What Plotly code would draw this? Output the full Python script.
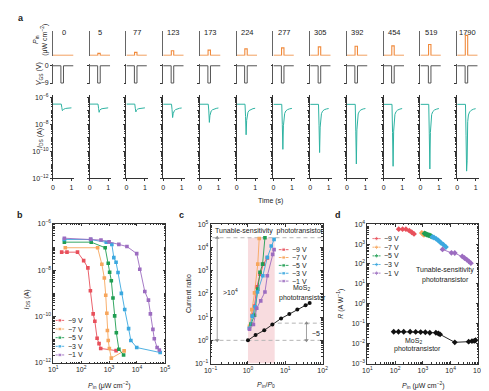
import numpy as np
import plotly.graph_objects as go

W, H = 489, 391
FONT = "Liberation Sans, Arial, Helvetica, sans-serif"
AX = "#333333"
TXT = "#222222"

# ---------------- panel a data ----------------
irradiance_labels = ["0", "5", "77", "123", "173", "224", "277", "305", "392", "454", "519", "1790"]
pulse_height = [0, 2.0, 3.0, 4.6, 5.3, 6.6, 7.6, 8.6, 9.3, 9.6, 11.0, 20.3]   # drawn pulse height
pulse_time = [0, 0.44, 0.44, 0.57, 0.57, 1.1]
pulse_shape = [0, 0, 1, 1, 0, 0]
vgs_time = [0, 0.43, 0.43, 0.57, 0.57, 1.1]
vgs_values = [0, 0, -9, -9, 0, 0]
ids_time = [0, 0.45, 0.48, 0.51, 0.54, 0.57, 0.61, 0.67, 0.76, 0.88, 1.0]
ids_log_0 = [-6.49, -6.49, -6.75, -6.98, -6.93, -6.88, -6.85, -6.82, -6.80, -6.78, -6.77]
ids_log_5 = [-6.49, -6.49, -6.80, -7.10, -6.95, -6.90, -6.86, -6.83, -6.80, -6.78, -6.77]
ids_log_77 = [-6.49, -6.49, -6.80, -7.07, -6.95, -6.90, -6.86, -6.83, -6.80, -6.78, -6.77]
ids_log_123 = [-6.50, -6.50, -6.90, -7.49, -7.20, -7.05, -6.97, -6.90, -6.85, -6.80, -6.78]
ids_log_173 = [-6.50, -6.50, -7.00, -7.85, -7.35, -7.12, -7.00, -6.92, -6.86, -6.81, -6.78]
ids_log_224 = [-6.50, -6.50, -7.40, -8.77, -7.70, -7.30, -7.10, -6.97, -6.89, -6.83, -6.80]
ids_log_277 = [-6.51, -6.51, -8.00, -9.85, -8.10, -7.45, -7.18, -7.00, -6.90, -6.84, -6.81]
ids_log_305 = [-6.51, -6.51, -8.10, -10.09, -8.20, -7.50, -7.20, -7.02, -6.91, -6.85, -6.82]
ids_log_392 = [-6.51, -6.51, -8.50, -10.94, -8.40, -7.55, -7.22, -7.03, -6.92, -6.85, -6.82]
ids_log_454 = [-6.51, -6.51, -8.60, -11.11, -8.50, -7.60, -7.25, -7.05, -6.93, -6.86, -6.82]
ids_log_519 = [-6.51, -6.51, -8.70, -11.31, -8.60, -7.62, -7.26, -7.05, -6.93, -6.86, -6.82]
ids_log_1790 = [-6.51, -6.51, -8.80, -11.47, -10.70, -7.80, -7.30, -7.08, -6.95, -6.87, -6.83]
ids_log_columns = [ids_log_0, ids_log_5, ids_log_77, ids_log_123, ids_log_173, ids_log_224,
                   ids_log_277, ids_log_305, ids_log_392, ids_log_454, ids_log_519, ids_log_1790]

# ---------------- panels b-d shared ----------------
gate_labels = ["\u22129 V", "\u22127 V", "\u22125 V", "\u22123 V", "\u22121 V"]
gate_colors = ["#e8505b", "#f7a65c", "#1f9e52", "#3ba8df", "#9c6cc0"]

# ---------------- panel b data ----------------
b_pin_m9 = [20, 31, 74, 123, 174, 214, 269, 309, 372, 437, 501, 1780]
b_ids_m9 = [6.0e-8, 6.0e-8, 6.0e-8, 2.6e-8, 1.26e-8, 1.3e-9, 1.3e-10, 6.3e-11, 1.15e-11, 6.8e-12, 4.2e-12, 3.4e-12]
b_pin_m7 = [27, 389, 550, 676, 759, 832, 871, 933, 1023, 1202, 3467]
b_ids_m7 = [9.3e-8, 9.3e-8, 1.8e-8, 4.6e-9, 8.3e-10, 1.38e-10, 2.5e-11, 9.3e-12, 4.2e-12, 1.6e-12, 3.3e-12]
b_pin_m5 = [25, 229, 724, 933, 1047, 1202, 1380, 1585, 1820, 2239, 3311]
b_ids_m5 = [1.62e-7, 1.62e-7, 9.3e-8, 2.0e-8, 8.1e-9, 3.5e-9, 6.3e-10, 1.07e-10, 2.0e-11, 3.9e-12, 2.2e-12]
b_pin_m3 = [25, 219, 794, 1259, 1479, 1778, 2089, 2754, 3631, 5012, 6026, 9772, 67600]
b_ids_m3 = [2.1e-7, 2.1e-7, 1.6e-7, 1.3e-7, 3.5e-8, 2.2e-8, 7.9e-9, 1.0e-9, 2.0e-10, 3.0e-11, 9.3e-12, 4.6e-12, 2.8e-12]
b_pin_m1 = [25, 219, 513, 1000, 2239, 4365, 9772, 12589, 19055, 25704, 30200, 37154, 41687, 52481, 63096]
b_ids_m1 = [2.4e-7, 2.2e-7, 2.0e-7, 1.66e-7, 1.3e-7, 1.05e-7, 5.2e-8, 1.1e-8, 1.2e-9, 5.1e-10, 1.3e-10, 2.8e-11, 1.1e-11, 4.6e-12, 3.6e-12]
b_pin = [b_pin_m9, b_pin_m7, b_pin_m5, b_pin_m3, b_pin_m1]
b_ids = [b_ids_m9, b_ids_m7, b_ids_m5, b_ids_m3, b_ids_m1]

# ---------------- panel c data ----------------
c_x_m9 = [1.3, 1.5, 1.72, 2.1, 2.57, 3.3]
c_y_m9 = [12, 30, 200, 700, 1900, 3500]
c_x_m7 = [1.1, 1.27, 1.5, 1.83, 2.0]
c_y_m7 = [4, 21, 110, 1900, 24000]
c_x_m5 = [1.2, 1.5, 1.83, 2.1, 2.46, 2.85]
c_y_m5 = [5, 12, 160, 850, 1900, 26000]
c_x_m3 = [1.09, 1.3, 1.55, 1.8, 2.5, 3.3, 4.2, 5.0]
c_y_m3 = [3.3, 11, 28, 120, 600, 3700, 11500, 22000]
c_x_m1 = [1.1, 1.4, 1.72, 2.2, 2.85, 3.3, 4.6, 5.0]
c_y_m1 = [3, 4.8, 24, 50, 120, 600, 5000, 8000]
c_x = [c_x_m9, c_x_m7, c_x_m5, c_x_m3, c_x_m1]
c_y = [c_y_m9, c_y_m7, c_y_m5, c_y_m3, c_y_m1]
c_mos2_x = [1, 1.6, 2.73, 4.5, 7.7, 12.8, 21, 35, 45]
c_mos2_y = [1, 1.7, 2.7, 4.8, 8.7, 13.5, 21, 32, 40]
c_shade_x = [1, 5.2]
c_ratio_top = 2.6e4
c_ratio_base = 1
c_mos2_level = 5.5

# ---------------- panel d data ----------------
d_pin_m9 = [135, 186, 245, 324, 398, 479]
d_r_m9 = [5600, 5600, 5600, 4700, 3900, 3240]
d_pin_m7 = [912, 1000, 1096]
d_r_m7 = [3630, 3310, 2880]
d_pin_m5 = [1148, 1259, 1380, 1514, 1660, 1820, 1995]
d_r_m5 = [3390, 3240, 3020, 2880, 2750, 2630, 2450]
d_pin_m3 = [2188, 2512, 3020, 3631, 4365, 5495, 6761]
d_r_m3 = [2290, 2140, 1820, 1510, 1200, 933, 708]
d_pin_m1 = [5129, 10715, 14125, 26303, 31623, 38019, 45709, 53703]
d_r_m1 = [537, 363, 355, 240, 200, 166, 135, 110]
d_pin = [d_pin_m9, d_pin_m7, d_pin_m5, d_pin_m3, d_pin_m1]
d_r = [d_r_m9, d_r_m7, d_r_m5, d_r_m3, d_r_m1]
d_mos2_pin = [89, 132, 204, 347, 550, 832, 1230, 1778, 2951, 3631, 4169, 14125, 44668, 58884, 70795, 79433]
d_mos2_r = [0.0398, 0.0398, 0.0398, 0.0398, 0.0389, 0.038, 0.0372, 0.0355, 0.0355, 0.0324, 0.0295,
            0.0117, 0.0126, 0.0135, 0.0138, 0.0148]

# ---------------- layout helpers ----------------
def xdom(p0, p1):
    return [p0 / W, p1 / W]

def ydom(top, bot):
    return [1 - bot / H, 1 - top / H]

def names(n):
    s = "" if n == 1 else str(n)
    return "xaxis" + s, "yaxis" + s, "x" + s, "y" + s

def sup(k):
    return "10<sup>" + ("\u2212" + str(-k) if k < 0 else str(k)) + "</sup>"

base = dict(showgrid=False, zeroline=False, linecolor=AX, linewidth=0.8, tickcolor=AX,
            tickwidth=0.8, tickfont=dict(size=7, family=FONT, color=TXT), fixedrange=True)

def log_axis(lo, hi, labelled_every=1, ticklen=2.5, inside=True, labels=True):
    """log axis: labelled decades as major ticks, the rest as minor ticks"""
    vals = [10.0 ** k for k in range(lo, hi + 1) if (k - lo) % labelled_every == 0] if labels else \
           [10.0 ** k for k in range(lo, hi + 1)]
    d = dict(type="log", ticks="inside" if inside else "outside", ticklen=ticklen,
             tickvals=vals, showticklabels=labels,
             minor=dict(ticks="inside" if inside else "outside", ticklen=ticklen * 0.55,
                        tickcolor=AX, tickwidth=0.6, dtick="D1"))
    if labels:
        d["ticktext"] = [sup(int(round(np.log10(v)))) for v in vals]
    return d

fig = go.Figure()
layout = {}

def line_trace(x, y, n, color, width=1.0, mode="lines", **kw):
    _, _, xr, yr = names(n)
    fig.add_trace(go.Scatter(x=x, y=y, xaxis=xr, yaxis=yr, mode=mode, hoverinfo="skip",
                             line=dict(color=color, width=width), showlegend=False, **kw))

# ---------------- panel a ----------------
col_left0, col_step, col_w = 39.0, 37.75, 22.0
for i in range(12):
    x0 = col_left0 + col_step * i
    xd = xdom(x0, x0 + col_w)
    # Pin row
    n = i + 1
    xa, ya, xr, yr = names(n)
    layout[xa] = dict(base, domain=xd, range=[0, 1.16], anchor=yr, showline=False,
                      showticklabels=False, ticks="")
    layout[ya] = dict(base, domain=ydom(19.5, 44.5), range=[-0.4, 24.6], anchor=xr, showline=True,
                      ticks="", showticklabels=False, linecolor="#666")
    line_trace(pulse_time, [s * pulse_height[i] for s in pulse_shape], n, "#f08a3c", 1.1)
    # Vgs row
    n = i + 13
    xa, ya, xr, yr = names(n)
    layout[xa] = dict(base, domain=xd, range=[0, 1.16], anchor=yr, showline=False,
                      showticklabels=False, ticks="")
    vgs_y = dict(base, domain=ydom(53, 73.5), range=[-9.6, 0.9], anchor=xr, showline=True,
                 ticks="outside", ticklen=2, tickvals=[0, -9], showticklabels=(i == 0), linecolor="#555")
    if i == 0:
        vgs_y["ticktext"] = ["0", "\u22129"]
    layout[ya] = vgs_y
    line_trace(vgs_time, vgs_values, n, "#555555", 1.0)
    # Ids row
    n = i + 25
    xa, ya, xr, yr = names(n)
    layout[xa] = dict(base, domain=xd, range=[0, 1.16], anchor=yr, showline=True,
                      ticks="outside", ticklen=2, tickvals=[0, 1], ticktext=["0", "1"])
    layout[ya] = dict(base, domain=ydom(85, 169.3), range=[-12, -5.85], anchor=xr, showline=True,
                      **log_axis(-12, -6, 2, ticklen=2.2, inside=False, labels=(i == 0)))
    line_trace(ids_time, list(np.power(10.0, ids_log_columns[i])), n, "#2fb3a2", 1.0)

# ---------------- panel b ----------------
xa, ya, xr, yr = names(37)
layout[xa] = dict(base, domain=xdom(39.3, 154), range=[1, 5], anchor=yr, showline=True,
                  mirror="ticks", **log_axis(1, 5, 1))
layout[ya] = dict(base, domain=ydom(215.7, 357.3), range=[-12, -6], anchor=xr, showline=True,
                  mirror="ticks", **log_axis(-12, -6, 2))
for k in range(5):
    line_trace(b_pin[k], b_ids[k], 37, gate_colors[k], 0.9, mode="lines+markers",
               marker=dict(symbol="square", size=3.6, color=gate_colors[k]))

# ---------------- panel c ----------------
xa, ya, xr, yr = names(38)
layout[xa] = dict(base, domain=xdom(201, 316), range=[-1, 2], anchor=yr, showline=True,
                  mirror="ticks", **log_axis(-1, 2, 1))
layout[ya] = dict(base, domain=ydom(216, 358), range=[-1, 5], anchor=xr, showline=True,
                  mirror="ticks", **log_axis(-1, 5, 1))
# shaded band
line_trace([c_shade_x[0], c_shade_x[1], c_shade_x[1], c_shade_x[0], c_shade_x[0]],
           [0.1, 0.1, c_ratio_top, c_ratio_top, 0.1], 38, "rgba(0,0,0,0)", 0,
           fill="toself", fillcolor="rgba(244,196,202,0.6)")
dash_gray = "#b5b5b5"
for xs, lvl in [([0.112, 100], c_ratio_top), ([0.112, 100], c_ratio_base), ([6.3, 100], c_mos2_level)]:
    line_trace(xs, [lvl, lvl], 38, dash_gray, 1.0)
    fig.data[-1].line.dash = "4px,3px"
# double-headed arrows
c_arrow_big_x = 0.15
c_arrow_small_x = 37
arrow_gray = "#8a8a8a"
for ax_x, y_lo, y_hi in [(c_arrow_big_x, c_ratio_base, c_ratio_top), (c_arrow_small_x, c_ratio_base, c_mos2_level)]:
    line_trace([ax_x, ax_x], [y_lo, y_hi], 38, arrow_gray, 0.8, mode="lines+markers",
               marker=dict(symbol=["triangle-down", "triangle-up"], size=4, color=arrow_gray))
line_trace(c_mos2_x, c_mos2_y, 38, "#111111", 0.9, mode="lines+markers",
           marker=dict(symbol="circle", size=4, color="#111111"))
for k in range(5):
    line_trace(c_x[k], c_y[k], 38, gate_colors[k], 0.9, mode="lines+markers",
               marker=dict(symbol="square", size=3.6, color=gate_colors[k]))

# ---------------- panel d ----------------
xa, ya, xr, yr = names(39)
layout[xa] = dict(base, domain=xdom(362, 476), range=[1, 5], anchor=yr, showline=True,
                  mirror="ticks", **log_axis(1, 5, 1))
layout[ya] = dict(base, domain=ydom(216, 358), range=[-3, 4], anchor=xr, showline=True,
                  mirror="ticks", **log_axis(-3, 4, 1))
for k in range(5):
    line_trace(d_pin[k], d_r[k], 39, gate_colors[k], 0.9, mode="lines+markers",
               marker=dict(symbol="diamond", size=4.5, color=gate_colors[k]))
line_trace(d_mos2_pin, d_mos2_r, 39, "#111111", 0.9, mode="lines+markers",
           marker=dict(symbol="diamond", size=4.5, color="#111111"))

# ---------------- overlay (pixel) axis for legends & labels ----------------
xa, ya, xr, yr = names(40)
layout[xa] = dict(domain=[0, 1], range=[0, W], visible=False, fixedrange=True, anchor=yr)
layout[ya] = dict(domain=[0, 1], range=[H, 0], visible=False, fixedrange=True, anchor=xr)

legend_specs = [  # (line x0, line x1, first row y, row step, symbol)
    (41.7, 50.5, 314.0, 8.8, "square"),
    (271.0, 281.0, 242.0, 8.0, "square"),
    (367.3, 375.5, 230.7, 8.8, "diamond"),
]
annotations = []

def text(x, y, s, size=7, xanchor="center", angle=0, bold=False):
    annotations.append(dict(x=x, y=y, xref="x40", yref="y40", text=("<b>%s</b>" % s) if bold else s,
                            showarrow=False, xanchor=xanchor, yanchor="middle", textangle=angle,
                            font=dict(size=size, family=FONT, color=TXT)))

for (lx0, lx1, ly0, step, sym) in legend_specs:
    for k in range(5):
        yy = ly0 + step * k
        line_trace([lx0, (lx0 + lx1) / 2, lx1], [yy, yy, yy], 40, gate_colors[k], 0.9, mode="lines+markers",
                   marker=dict(symbol=sym, size=[0, 3.6, 0], color=gate_colors[k]))
        text(lx1 + 1.8, yy, gate_labels[k], 7, "left")

# panel letters
text(6, 6, "a", 9, bold=True)
text(5, 207, "b", 9, bold=True)
text(171, 207, "c", 9, bold=True)
text(332, 207, "d", 9, bold=True)

# panel a labels
for i in range(12):
    text(col_left0 + col_step * i + 11, 21, irradiance_labels[i], 7.5)
text(26, 28, "<i>P</i><sub>in</sub><br>(\u03bcW cm<sup>\u22122</sup>)", 7, angle=-90)
text(25, 63, "<i>V</i><sub>GS</sub> (V)", 7, angle=-90)
text(25, 128, "<i>I</i><sub>DS</sub> (A)", 7, angle=-90)
text(262, 192, "Time (s)", 7)

# panel b labels
text(12, 293, "<i>I</i><sub>DS</sub> (A)", 7, angle=-90)
text(97, 380, "<i>P</i><sub>in</sub> (\u03bcW cm<sup>\u22122</sup>)", 7)

# panel c labels
text(179, 287, "Current ratio", 7, angle=-90)
text(258, 380, "<i>P</i><sub>in</sub>/<i>P</i><sub>0</sub>", 7)
text(261, 223, "Tunable-sensitivity  phototransistor", 7)
text(212, 285, "&gt;10<sup>4</sup>", 7, "left")
text(294, 281, "MoS<sub>2</sub>", 7)
text(295, 291, "phototransistor", 7)
text(303, 327, "~5", 7, "left")

# panel d labels
text(335, 297, "<i>R</i> (A W<sup>\u22121</sup>)", 7, angle=-90)
text(420, 380, "<i>P</i><sub>in</sub> (\u03bcW cm<sup>\u22122</sup>)", 7)
text(442, 263, "Tunable-sensitivity", 7)
text(442, 272.5, "phototransistor", 7)
text(409, 335, "MoS<sub>2</sub>", 7)
text(413, 343.5, "phototransistor", 7)

layout.update(width=W, height=H, margin=dict(l=0, r=0, t=0, b=0), paper_bgcolor="white",
              plot_bgcolor="rgba(0,0,0,0)", showlegend=False, annotations=annotations,
              font=dict(family=FONT, size=7, color=TXT))
fig.update_layout(**layout)
fig.write_html("out.html")
